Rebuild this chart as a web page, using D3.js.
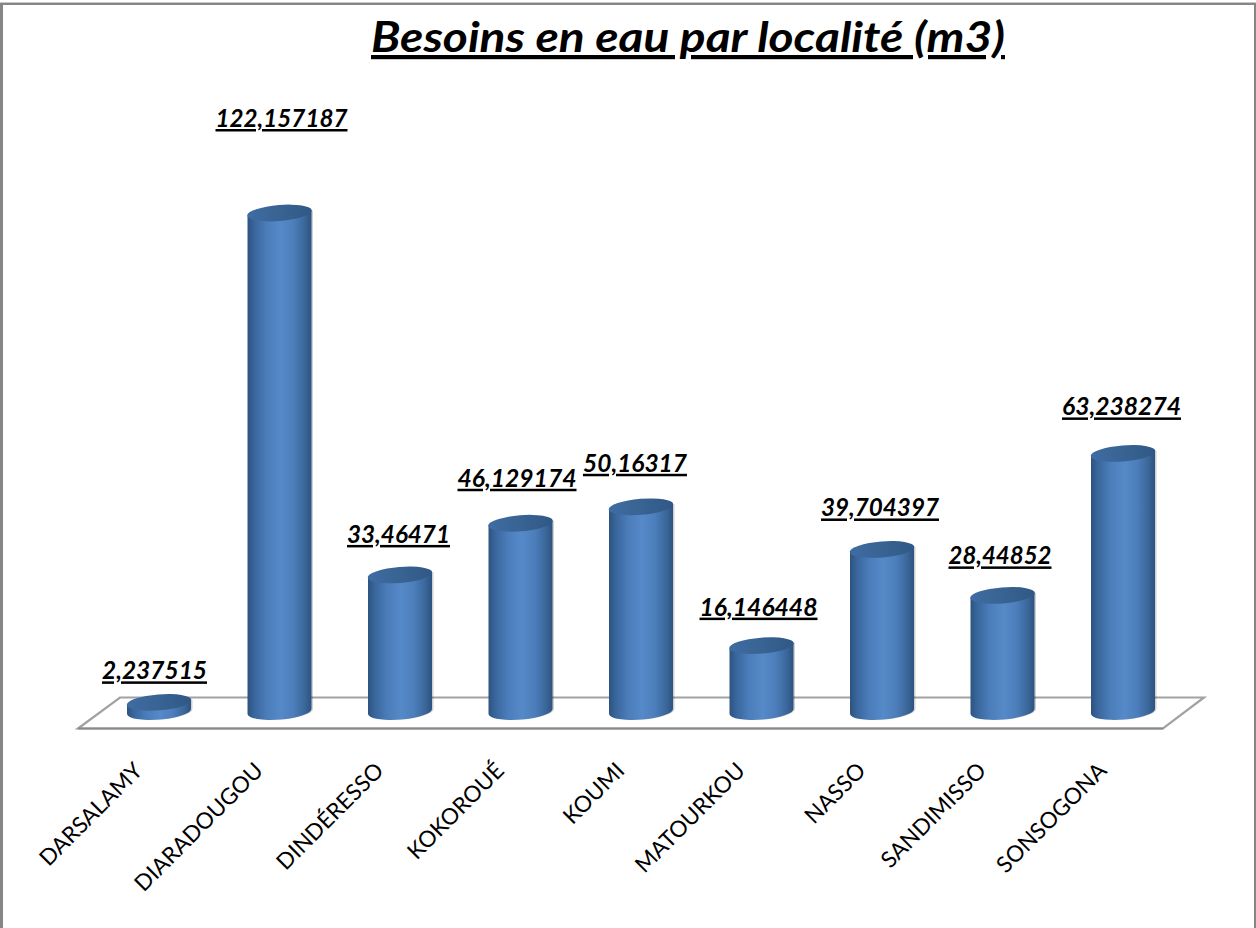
<!DOCTYPE html>
<html><head><meta charset="utf-8">
<script src="https://cdnjs.cloudflare.com/ajax/libs/d3/7.8.5/d3.min.js"></script>
<style>html,body{margin:0;padding:0;background:#fff;overflow:hidden}svg{display:block}text{font-family:Lato,"Open Sans",sans-serif;fill:#000}
.t{text-decoration:underline;text-decoration-thickness:4px;text-underline-offset:6px}
.v{text-decoration:underline;text-decoration-thickness:3px;text-underline-offset:3px}</style>
</head><body><svg id="c" width="1256" height="928"></svg>
<script>
const categories=["DARSALAMY","DIARADOUGOU","DINDÉRESSO","KOKOROUÉ","KOUMI","MATOURKOU","NASSO","SANDIMISSO","SONSOGONA"];
const values=[2.237515,122.157187,33.46471,46.129174,50.16317,16.146448,39.704397,28.44852,63.238274];
const valueLabels=["2,237515","122,157187","33,46471","46,129174","50,16317","16,146448","39,704397","28,44852","63,238274"];
const labelShiftX=[-4.5,2,-1.5,-3.5,-6,-3,-2,-2.5,-1.5];
const labelShiftY=[-23,-86,-32,-36.5,-35,-30,-33,-31,-38];
const labelWidth=[105,132,103,119,104,118,118,103,119];

const W=1256,H=928;
const svg=d3.select("#c");
const x=d3.scaleBand().domain(categories).range([98.75,1183.25]);
const y=d3.scaleLinear().domain([0,122.157187]).range([711.5,213]);
const cx=d=>x(d)+x.bandwidth()/2;
const rx=32,ry=8,tilt=2.6;

const defs=svg.append("defs");
const g=defs.append("linearGradient").attr("id","cyl");
[[0,"#2d5380"],[.1,"#38659b"],[.3,"#4b7dba"],[.52,"#5689c8"],[.72,"#4c7ebb"],[.9,"#3a6699"],[1,"#2d5280"]]
 .forEach(s=>g.append("stop").attr("offset",s[0]).attr("stop-color",s[1]));
const gt=defs.append("linearGradient").attr("id","cap");
[[0,"#3f6ca3"],[.5,"#386392"],[1,"#305886"]].forEach(s=>gt.append("stop").attr("offset",s[0]).attr("stop-color",s[1]));

// frame
const fr="#868686";
svg.append("rect").attr("x",0).attr("y",2).attr("width",W).attr("height",1.5).attr("fill","#c8c8c8");
svg.append("rect").attr("x",0).attr("y",3).attr("width",W).attr("height",2).attr("fill",fr);
svg.append("rect").attr("x",0).attr("y",3).attr("width",3).attr("height",H).attr("fill",fr);
svg.append("rect").attr("x",W-2).attr("y",3).attr("width",2).attr("height",H).attr("fill",fr);

// floor
const fl=svg.append("g").attr("fill","none");
fl.append("path").attr("d","M78,728.5L120,697.5L1204,697.5L1163,728.5Z").attr("stroke","#a2a2a2").attr("stroke-width",2.2);
fl.append("path").attr("d","M78,728.5L1163,728.5").attr("stroke","#8a8a8a").attr("stroke-width",2.2);

// title
svg.append("text").attr("class","t").attr("x",688).attr("y",52).attr("text-anchor","middle")
 .attr("font-size",42).attr("font-style","italic").attr("font-weight",700)
 .attr("textLength",634).attr("lengthAdjust","spacingAndGlyphs")
 .text("Besoins en eau par localité (m3)");

// cylinders
const bars=svg.append("g").selectAll("g").data(categories).join("g");
const side=(d,i)=>{
 const c=cx(d),yt=y(values[i]),yb=y(0);
 return `M${c-rx},${yt+tilt}L${c-rx},${yb+tilt}A${rx},${ry} -4.6 0 0 ${c+rx},${yb-tilt}L${c+rx},${yt-tilt}Z`;
};
bars.append("path").attr("d",side).attr("fill","#000").attr("opacity",.18).attr("transform","translate(1.5,0)");
bars.append("path").attr("d",side).attr("fill","url(#cyl)");
bars.append("ellipse").attr("cx",0).attr("cy",0).attr("rx",rx+.4).attr("ry",ry)
 .attr("transform",(d,i)=>`translate(${cx(d)},${y(values[i])}) rotate(-4.6)`).attr("fill","url(#cap)");

// value labels
svg.append("g").selectAll("text").data(categories).join("text").attr("class","v")
 .attr("x",(d,i)=>cx(d)+labelShiftX[i]).attr("y",(d,i)=>y(values[i])+labelShiftY[i])
 .attr("text-anchor","middle").attr("font-size",25).attr("font-style","italic").attr("font-weight",700)
 .attr("textLength",(d,i)=>labelWidth[i]).attr("lengthAdjust","spacingAndGlyphs")
 .text((d,i)=>valueLabels[i]);

// axis labels
const ax=d3.axisBottom(x).tickSize(0).tickPadding(0);
const ag=svg.append("g").attr("transform","translate(0,760)").call(ax);
ag.select(".domain").remove();
ag.selectAll("text").attr("font-size",22.5).attr("font-family",'Lato,"Open Sans",sans-serif').attr("fill","#000")
 .attr("text-anchor","end").attr("dy",0).attr("y",0).attr("x",0)
 .attr("transform","translate(-15,12) rotate(-45)");
</script></body></html>
